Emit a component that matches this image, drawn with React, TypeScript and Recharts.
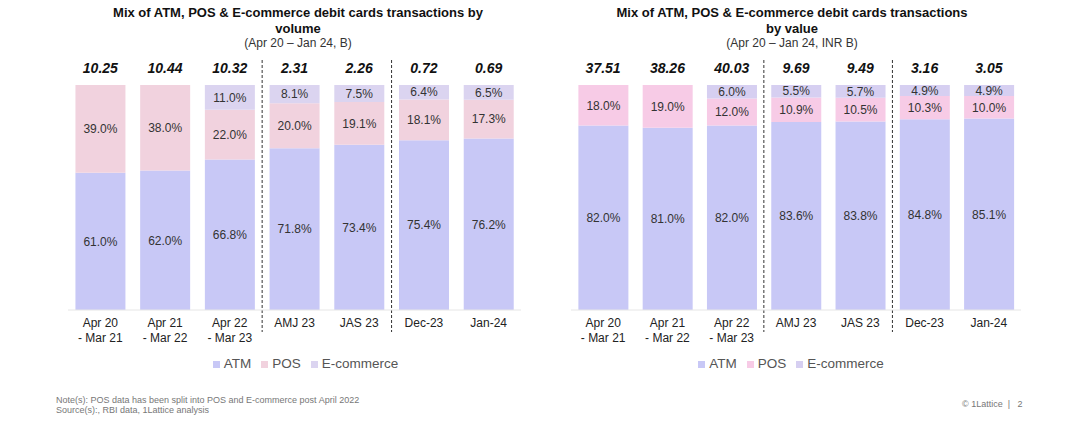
import React from 'react';
import {
  BarChart,
  Bar,
  XAxis,
  YAxis,
  Legend,
  LabelList,
  ReferenceLine,
} from 'recharts';

// Periods shown on both charts
const categories = [
  'Apr 20\n- Mar 21',
  'Apr 21\n- Mar 22',
  'Apr 22\n- Mar 23',
  'AMJ 23',
  'JAS 23',
  'Dec-23',
  'Jan-24',
];

// By volume (B)
const volumeTotals = [10.25, 10.44, 10.32, 2.31, 2.26, 0.72, 0.69];
const volumeAtm = [61.0, 62.0, 66.8, 71.8, 73.4, 75.4, 76.2];
const volumePos = [39.0, 38.0, 22.0, 20.0, 19.1, 18.1, 17.3];
const volumeEcom = [0, 0, 11.0, 8.1, 7.5, 6.4, 6.5];

// By value (INR B)
const valueTotals = [37.51, 38.26, 40.03, 9.69, 9.49, 3.16, 3.05];
const valueAtm = [82.0, 81.0, 82.0, 83.6, 83.8, 84.8, 85.1];
const valuePos = [18.0, 19.0, 12.0, 10.9, 10.5, 10.3, 10.0];
const valueEcom = [0, 0, 6.0, 5.5, 5.7, 4.9, 4.9];

const seriesOrder = ['ATM', 'POS', 'E-commerce'];
const dividerCategories = ['AMJ 23', 'Dec-23'];

const buildRows = (totals: number[], atm: number[], pos: number[], ecom: number[]) =>
  categories.map((category, i) => ({
    category,
    total: totals[i],
    atm: atm[i],
    pos: pos[i],
    ecom: ecom[i],
  }));

const pct = (v: any) => (v ? `${Number(v).toFixed(1)}%` : '');

const CategoryTick = (props: any) => {
  const { x, y, payload } = props;
  const lines = String(payload.value).split('\n');
  return (
    <text x={x} y={y} textAnchor="middle" fill="#222" fontSize={12}>
      {lines.map((line, i) => (
        <tspan key={i} x={x} dy={i === 0 ? '0.71em' : 15}>
          {line}
        </tspan>
      ))}
    </text>
  );
};

const DashedDivider = (props: any) => (
  <line
    x1={props.x1}
    x2={props.x2}
    y1={Math.min(props.y1, props.y2) - 25}
    y2={Math.max(props.y1, props.y2) + 22}
    stroke="#333"
    strokeWidth={1}
    strokeDasharray="3 2"
  />
);

interface MixChartProps {
  rows: any[];
  left: number;
  width: number;
  marginLeft: number;
  marginRight: number;
  titleLines: string[];
  subtitle: string;
  titleCenter: number;
  legendShift: number;
  posColor: string;
  ecomColor: string;
}

const MixChart: React.FC<MixChartProps> = ({
  rows,
  left,
  width,
  marginLeft,
  marginRight,
  titleLines,
  subtitle,
  titleCenter,
  legendShift,
  posColor,
  ecomColor,
}) => (
  <div style={{ position: 'absolute', left, top: 0, width, height: 380 }}>
    <div
      style={{
        position: 'absolute',
        left: titleCenter - left - 250,
        width: 500,
        top: 5,
        textAlign: 'center',
        color: '#111',
      }}
    >
      {titleLines.map((t) => (
        <div key={t} style={{ fontSize: 13, fontWeight: 'bold', lineHeight: '16px' }}>
          {t}
        </div>
      ))}
      <div style={{ fontSize: 12, lineHeight: '13px', color: '#333' }}>{subtitle}</div>
    </div>
    <BarChart
      width={width}
      height={380}
      data={rows}
      stackOffset="expand"
      barCategoryGap="11.5%"
      margin={{ top: 55, right: marginRight, bottom: 10, left: marginLeft }}
    >
      <XAxis
        dataKey="category"
        height={40}
        interval={0}
        tickLine={false}
        tickMargin={2}
        axisLine={{ stroke: '#e6e6e6' }}
        tick={<CategoryTick />}
      />
      <XAxis
        xAxisId="top"
        orientation="top"
        dataKey="total"
        height={30}
        interval={0}
        axisLine={false}
        tickLine={false}
        tickMargin={6}
        tickFormatter={(v) => Number(v).toFixed(2)}
        tick={{ fontSize: 14, fontWeight: 'bold', fontStyle: 'italic', fill: '#111' }}
      />
      <YAxis hide domain={[0, 1]} />
      <Legend
        verticalAlign="bottom"
        height={20}
        iconType="square"
        iconSize={7}
        itemSorter={(item: any) => seriesOrder.indexOf(item.value)}
        wrapperStyle={{ fontSize: 13.5, bottom: 4, paddingLeft: legendShift }}
        formatter={(v) => <span style={{ color: '#555' }}>{v}</span>}
      />
      {dividerCategories.map((c) => (
        <ReferenceLine
          key={c}
          x={c}
          position="start"
          ifOverflow="visible"
          shape={<DashedDivider />}
        />
      ))}
      <Bar dataKey="atm" name="ATM" stackId="mix" fill="#c8c8f6" isAnimationActive={false}>
        <LabelList dataKey="atm" position="center" formatter={pct} fontSize={12} fill="#333" />
      </Bar>
      <Bar dataKey="pos" name="POS" stackId="mix" fill={posColor} isAnimationActive={false}>
        <LabelList dataKey="pos" position="center" formatter={pct} fontSize={12} fill="#333" />
      </Bar>
      <Bar dataKey="ecom" name="E-commerce" stackId="mix" fill={ecomColor} isAnimationActive={false}>
        <LabelList dataKey="ecom" position="center" formatter={pct} fontSize={12} fill="#333" />
      </Bar>
    </BarChart>
  </div>
);

export default function App() {
  return (
    <div
      style={{
        position: 'absolute',
        left: 0,
        top: 0,
        width: 1075,
        height: 435,
        background: '#fff',
        fontFamily: '"Liberation Sans", Arial, sans-serif',
        overflow: 'hidden',
      }}
    >
      <MixChart
        rows={buildRows(volumeTotals, volumeAtm, volumePos, volumeEcom)}
        left={0}
        width={540}
        marginLeft={68}
        marginRight={19}
        titleLines={['Mix of ATM, POS & E-commerce debit cards transactions by', 'volume']}
        subtitle="(Apr 20 – Jan 24, B)"
        titleCenter={298}
        legendShift={16}
        posColor="#f1d2de"
        ecomColor="#dbd4f0"
      />
      <MixChart
        rows={buildRows(valueTotals, valueAtm, valuePos, valueEcom)}
        left={540}
        width={535}
        marginLeft={31}
        marginRight={54}
        titleLines={['Mix of ATM, POS & E-commerce debit cards transactions', 'by value']}
        subtitle="(Apr 20 – Jan 24, INR B)"
        titleCenter={792}
        legendShift={0}
        posColor="#f7cbe6"
        ecomColor="#d6cff1"
      />
      <div
        style={{
          position: 'absolute',
          left: 56,
          top: 395,
          fontSize: 9,
          lineHeight: '10px',
          color: '#777',
        }}
      >
        <div>Note(s): POS data has been split into POS and E-commerce post April 2022</div>
        <div>Source(s):, RBI data, 1Lattice analysis</div>
      </div>
      <div
        style={{
          position: 'absolute',
          left: 962,
          top: 399,
          fontSize: 9,
          lineHeight: '10px',
          color: '#777',
          whiteSpace: 'pre',
        }}
      >
        {'© 1Lattice  |   2'}
      </div>
    </div>
  );
}
